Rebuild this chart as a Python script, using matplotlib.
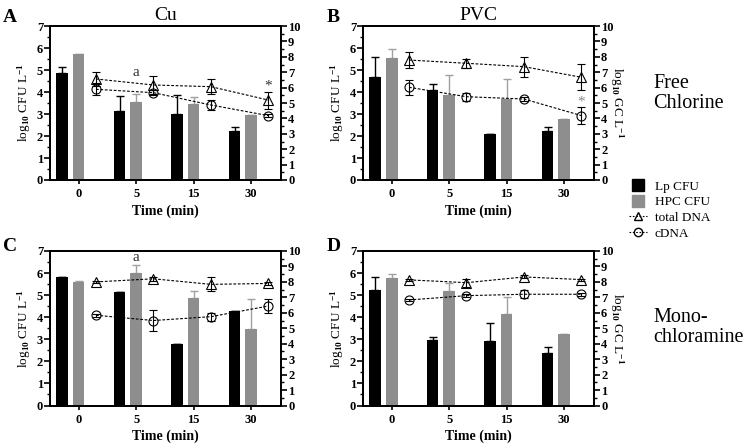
import numpy as np
import matplotlib.pyplot as plt
from matplotlib.lines import Line2D

plt.rcParams['font.family'] = ['Liberation Serif', 'DejaVu Serif']
plt.rcParams['mathtext.fontset'] = 'custom'
plt.rcParams['mathtext.rm'] = 'Liberation Serif:bold'
plt.rcParams['mathtext.it'] = 'Liberation Serif:bold:italic'
plt.rcParams['mathtext.bf'] = 'Liberation Serif:bold'

times = ['0', '5', '15', '30']

# panel A: Cu, free chlorine
lpA = [4.88, 3.14, 3.0, 2.23]
lpA_err = [0.27, 0.69, 0.88, 0.16]
hpcA = [5.71, 3.56, 3.45, 2.94]
hpcA_err = [0.0, 0.35, 0.31, 0.0]
dnaA = [6.56, 6.17, 6.06, 5.19]
dnaA_err = [0.43, 0.6, 0.48, 0.55]
cdnaA = [5.89, 5.67, 4.87, 4.18]
cdnaA_err = [0.4, 0.15, 0.3, 0.08]

# panel B: PVC, free chlorine
lpB = [4.67, 4.11, 2.09, 2.24]
lpB_err = [0.91, 0.24, 0.0, 0.15]
hpcB = [5.56, 3.86, 3.70, 2.76]
hpcB_err = [0.39, 0.91, 0.88, 0.03]
dnaB = [7.79, 7.58, 7.36, 6.67]
dnaB_err = [0.5, 0.3, 0.65, 0.85]
cdnaB = [6.02, 5.41, 5.26, 4.18]
cdnaB_err = [0.5, 0.25, 0.1, 0.55]

# panel C: Cu, monochloramine
lpC = [5.84, 5.14, 2.78, 4.28]
lpC_err = [0.0, 0.0, 0.0, 0.0]
hpcC = [5.6, 6.0, 4.89, 3.45]
hpcC_err = [0.03, 0.36, 0.3, 1.38]
dnaC = [8.0, 8.2, 7.84, 7.9]
dnaC_err = [0.05, 0.12, 0.45, 0.08]
cdnaC = [5.84, 5.5, 5.75, 6.44]
cdnaC_err = [0.1, 0.68, 0.25, 0.45]

# panel D: PVC, monochloramine
lpD = [5.22, 2.97, 2.9, 2.37]
lpD_err = [0.6, 0.12, 0.83, 0.3]
hpcD = [5.78, 5.19, 4.13, 3.23]
hpcD_err = [0.16, 0.35, 0.8, 0.0]
dnaD = [8.13, 7.95, 8.32, 8.15]
dnaD_err = [0.05, 0.25, 0.1, 0.06]
cdnaD = [6.83, 7.11, 7.2, 7.2]
cdnaD_err = [0.04, 0.1, 0.25, 0.1]

x = np.arange(4)
gray = '#8e8e8e'

fig = plt.figure(figsize=(7.48, 4.44), dpi=100)

def panel(rect, lp, lp_err, hpc, hpc_err, dna, dna_err, cdna, cdna_err, right_label):
    ax = fig.add_axes(rect)
    ax.bar(x, lp, width=0.2, color='black', zorder=2)
    ax.bar(x + 0.29, hpc, width=0.2, color=gray, zorder=2)
    ax.errorbar(x, lp, yerr=[np.zeros(4), lp_err], fmt='none', ecolor='black',
                elinewidth=1, capsize=3, capthick=1, zorder=1)
    ax.errorbar(x + 0.29, hpc, yerr=[np.zeros(4), hpc_err], fmt='none', ecolor='#a0a0a0',
                elinewidth=1, capsize=3, capthick=1, zorder=1)
    ax.set_xlim(-0.21, 3.81)
    ax.set_ylim(0, 7)
    ax.set_xticks(x + 0.29)
    ax.set_xticklabels(times, fontweight='bold', fontsize=9)
    ax.set_yticks(range(8))
    ax.set_yticks(np.arange(0, 7.01, 0.5), minor=True)
    ax.tick_params(axis='y', labelsize=9, length=4, width=1.2, pad=1)
    ax.tick_params(axis='y', which='minor', length=2, width=1)
    ax.tick_params(axis='x', length=3, width=1.2, pad=3)
    for lab in ax.get_yticklabels():
        lab.set_fontweight('bold')
    for sp in ax.spines.values():
        sp.set_linewidth(1.3)
    ax.set_xlabel('Time (min)', fontweight='bold', fontsize=10, labelpad=3)
    ax.set_ylabel(r'log$_{10}$ CFU L$^{-1}$', fontsize=9.5, labelpad=3)

    ax2 = ax.twinx()
    ax2.set_ylim(0, 10)
    xl = x + 0.59
    ax2.errorbar(xl, dna, yerr=dna_err, color='black', ls=(0, (2.5, 1.5)), lw=0.8,
                 marker='^', ms=6.5, mfc='none', mec='black', mew=0.8,
                 elinewidth=0.8, capsize=3, capthick=0.8)
    ax2.errorbar(xl, cdna, yerr=cdna_err, color='black', ls=(0, (2.5, 1.5)), lw=0.8,
                 marker='o', ms=6.5, mfc='none', mec='black', mew=0.8,
                 elinewidth=0.8, capsize=3, capthick=0.8)
    ax2.set_yticks(range(11))
    ax2.set_yticks(np.arange(0, 10.01, 0.5), minor=True)
    ax2.tick_params(axis='y', labelsize=9, length=4, width=1.2, pad=1)
    ax2.tick_params(axis='y', which='minor', length=2, width=1)
    for lab in ax2.get_yticklabels():
        lab.set_fontweight('bold')
    for sp in ax2.spines.values():
        sp.set_linewidth(1.3)
    if right_label:
        ax2.set_ylabel(r'log$_{10}$ GC L$^{-1}$', fontsize=9.5, rotation=270, labelpad=9)
    return ax, ax2

axA, axA2 = panel([0.0668, 0.5946, 0.309, 0.3468], lpA, lpA_err, hpcA, hpcA_err,
                  dnaA, dnaA_err, cdnaA, cdnaA_err, False)
axB, axB2 = panel([0.4853, 0.5946, 0.309, 0.3468], lpB, lpB_err, hpcB, hpcB_err,
                  dnaB, dnaB_err, cdnaB, cdnaB_err, True)
axC, axC2 = panel([0.0668, 0.0867, 0.309, 0.348], lpC, lpC_err, hpcC, hpcC_err,
                  dnaC, dnaC_err, cdnaC, cdnaC_err, False)
axD, axD2 = panel([0.4853, 0.0867, 0.309, 0.348], lpD, lpD_err, hpcD, hpcD_err,
                  dnaD, dnaD_err, cdnaD, cdnaD_err, True)

axA.set_title('Cu', fontsize=14, pad=4)
axB.set_title('PVC', fontsize=14, pad=4)

# annotations
axA.text(1.29, 4.75, 'a', fontsize=11, color='#333333', ha='center')
axC.text(1.29, 6.55, 'a', fontsize=11, color='#333333', ha='center')
axA2.text(3.59, 5.85, '*', fontsize=11, color='#333333', ha='center')
axB2.text(3.59, 4.85, '*', fontsize=11, color='#888888', ha='center')

for lab, px, py in [('A', 0.004, 0.96), ('B', 0.437, 0.96), ('C', 0.004, 0.445), ('D', 0.437, 0.445)]:
    fig.text(px, py, lab, fontsize=14, fontweight='bold', va='center')

fig.text(0.873, 0.802, 'Free', fontsize=14.5, va='baseline')
fig.text(0.873, 0.757, 'Chlorine', fontsize=14.5, va='baseline')
fig.text(0.873, 0.275, 'Mono-', fontsize=14.5, va='baseline')
fig.text(0.873, 0.230, 'chloramine', fontsize=14.5, va='baseline')

handles = [
    Line2D([], [], marker='s', ms=9, color='black', ls='none'),
    Line2D([], [], marker='s', ms=9, color=gray, ls='none'),
    Line2D([], [], marker='^', ms=6, mfc='none', mec='black', color='black',
           ls=(0, (1.5, 1.5)), lw=0.8),
    Line2D([], [], marker='o', ms=6, mfc='none', mec='black', color='black',
           ls=(0, (1.5, 1.5)), lw=0.8),
]
fig.legend(handles, ['Lp CFU', 'HPC CFU', 'total DNA', 'cDNA'], loc='upper left',
           bbox_to_anchor=(0.838, 0.599), borderaxespad=0, borderpad=0.2,
           frameon=False, fontsize=9.5,
           handlelength=1.3, handletextpad=0.6, labelspacing=0.25)

fig.savefig('out.png', dpi=100)
